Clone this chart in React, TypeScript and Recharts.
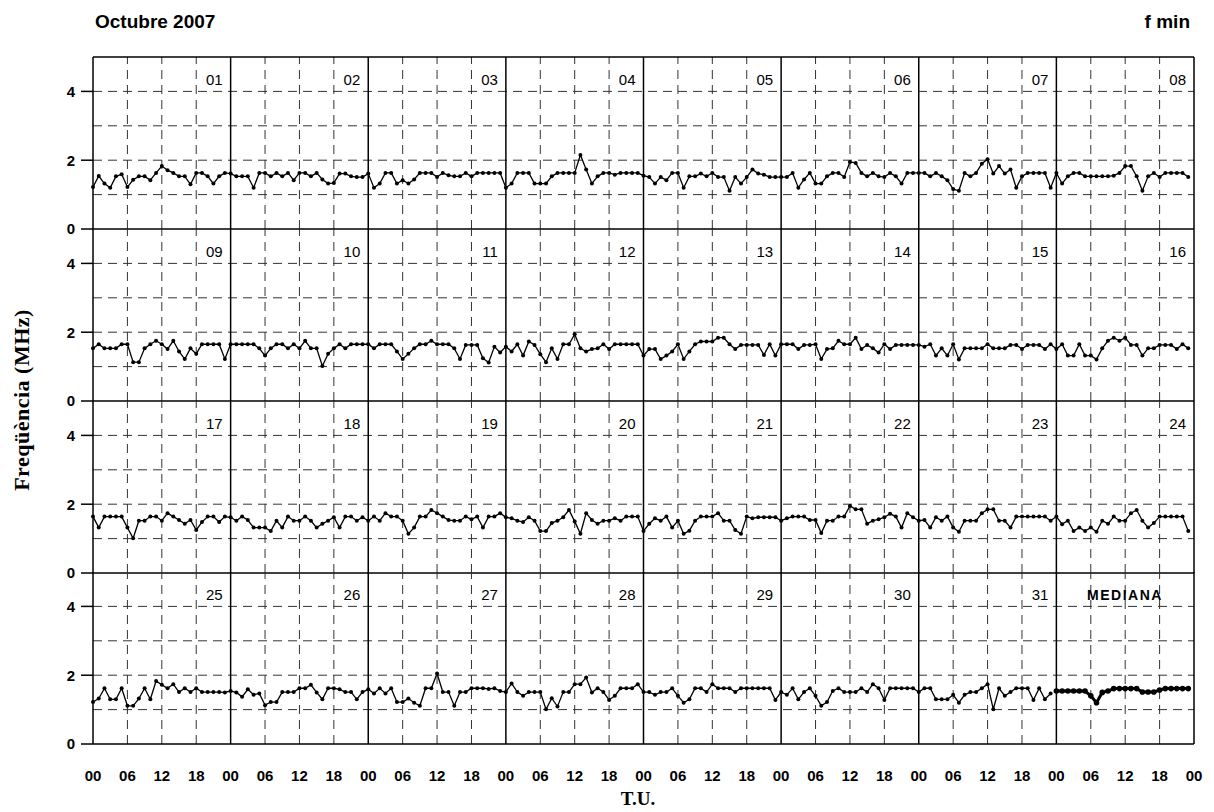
import React from "react";
import { Line, LineChart, ReferenceLine, XAxis, YAxis } from "recharts";

// hourly f min values (MHz), one array per day, hours 00..23
const days: number[][] = [
  /* 01 */ [1.22, 1.54, 1.32, 1.2, 1.53, 1.59, 1.22, 1.43, 1.53, 1.53, 1.42, 1.63, 1.83, 1.71, 1.63, 1.53, 1.53, 1.3, 1.63, 1.63, 1.53, 1.32, 1.53, 1.63],
  /* 02 */ [1.61, 1.53, 1.53, 1.53, 1.2, 1.63, 1.63, 1.53, 1.63, 1.53, 1.63, 1.42, 1.63, 1.63, 1.53, 1.63, 1.44, 1.32, 1.34, 1.61, 1.61, 1.53, 1.51, 1.51],
  /* 03 */ [1.61, 1.2, 1.32, 1.63, 1.63, 1.32, 1.42, 1.32, 1.44, 1.63, 1.63, 1.63, 1.51, 1.63, 1.56, 1.53, 1.53, 1.63, 1.53, 1.63, 1.63, 1.63, 1.63, 1.63],
  /* 04 */ [1.2, 1.32, 1.63, 1.63, 1.63, 1.32, 1.32, 1.32, 1.53, 1.63, 1.63, 1.63, 1.63, 2.15, 1.73, 1.32, 1.53, 1.63, 1.63, 1.58, 1.63, 1.63, 1.63, 1.63],
  /* 05 */ [1.55, 1.51, 1.32, 1.51, 1.42, 1.63, 1.63, 1.2, 1.53, 1.53, 1.61, 1.53, 1.63, 1.51, 1.51, 1.11, 1.51, 1.32, 1.51, 1.73, 1.61, 1.58, 1.51, 1.51],
  /* 06 */ [1.51, 1.51, 1.63, 1.2, 1.44, 1.63, 1.32, 1.32, 1.53, 1.63, 1.63, 1.51, 1.95, 1.92, 1.63, 1.53, 1.63, 1.53, 1.51, 1.63, 1.53, 1.32, 1.63, 1.63],
  /* 07 */ [1.63, 1.63, 1.53, 1.63, 1.53, 1.42, 1.16, 1.11, 1.63, 1.53, 1.63, 1.9, 2.03, 1.61, 1.83, 1.61, 1.73, 1.2, 1.53, 1.63, 1.63, 1.63, 1.63, 1.2],
  /* 08 */ [1.63, 1.32, 1.53, 1.63, 1.63, 1.53, 1.53, 1.53, 1.53, 1.53, 1.55, 1.63, 1.83, 1.83, 1.53, 1.11, 1.53, 1.63, 1.51, 1.63, 1.63, 1.63, 1.63, 1.51],
  /* 09 */ [1.53, 1.65, 1.53, 1.53, 1.53, 1.65, 1.65, 1.13, 1.13, 1.53, 1.65, 1.75, 1.65, 1.51, 1.75, 1.44, 1.22, 1.53, 1.37, 1.65, 1.65, 1.65, 1.65, 1.22],
  /* 10 */ [1.65, 1.65, 1.65, 1.65, 1.65, 1.53, 1.32, 1.53, 1.65, 1.65, 1.53, 1.65, 1.53, 1.75, 1.53, 1.53, 1.02, 1.37, 1.53, 1.65, 1.53, 1.65, 1.65, 1.65],
  /* 11 */ [1.65, 1.53, 1.65, 1.65, 1.65, 1.44, 1.22, 1.37, 1.53, 1.65, 1.65, 1.75, 1.65, 1.65, 1.65, 1.53, 1.22, 1.63, 1.63, 1.63, 1.24, 1.12, 1.58, 1.41],
  /* 12 */ [1.58, 1.44, 1.65, 1.32, 1.73, 1.63, 1.36, 1.13, 1.53, 1.22, 1.65, 1.65, 1.94, 1.53, 1.44, 1.51, 1.53, 1.65, 1.51, 1.65, 1.65, 1.65, 1.65, 1.65],
  /* 13 */ [1.32, 1.51, 1.51, 1.22, 1.32, 1.44, 1.65, 1.22, 1.44, 1.65, 1.73, 1.73, 1.73, 1.84, 1.84, 1.65, 1.51, 1.63, 1.63, 1.63, 1.63, 1.34, 1.65, 1.32],
  /* 14 */ [1.65, 1.65, 1.65, 1.51, 1.63, 1.63, 1.65, 1.22, 1.51, 1.53, 1.75, 1.65, 1.65, 1.84, 1.51, 1.63, 1.53, 1.41, 1.65, 1.51, 1.63, 1.63, 1.63, 1.63],
  /* 15 */ [1.63, 1.58, 1.65, 1.32, 1.53, 1.32, 1.65, 1.21, 1.53, 1.53, 1.53, 1.53, 1.65, 1.53, 1.53, 1.53, 1.63, 1.63, 1.51, 1.63, 1.63, 1.63, 1.51, 1.65],
  /* 16 */ [1.51, 1.65, 1.32, 1.32, 1.65, 1.32, 1.32, 1.21, 1.53, 1.75, 1.84, 1.75, 1.84, 1.63, 1.63, 1.32, 1.53, 1.53, 1.63, 1.63, 1.63, 1.51, 1.65, 1.53],
  /* 17 */ [1.64, 1.32, 1.64, 1.64, 1.64, 1.64, 1.32, 1.01, 1.52, 1.52, 1.64, 1.64, 1.52, 1.74, 1.64, 1.54, 1.43, 1.54, 1.25, 1.48, 1.64, 1.64, 1.48, 1.64],
  /* 18 */ [1.62, 1.52, 1.64, 1.54, 1.32, 1.32, 1.32, 1.22, 1.52, 1.32, 1.64, 1.52, 1.52, 1.64, 1.52, 1.32, 1.43, 1.52, 1.62, 1.32, 1.64, 1.64, 1.52, 1.62],
  /* 19 */ [1.52, 1.64, 1.52, 1.74, 1.64, 1.64, 1.52, 1.14, 1.32, 1.64, 1.64, 1.83, 1.74, 1.64, 1.54, 1.52, 1.52, 1.64, 1.56, 1.64, 1.32, 1.64, 1.64, 1.74],
  /* 20 */ [1.62, 1.59, 1.52, 1.48, 1.62, 1.52, 1.22, 1.22, 1.45, 1.52, 1.62, 1.83, 1.5, 1.14, 1.74, 1.54, 1.43, 1.52, 1.52, 1.59, 1.52, 1.64, 1.64, 1.64],
  /* 21 */ [1.22, 1.43, 1.59, 1.52, 1.64, 1.32, 1.52, 1.14, 1.23, 1.52, 1.64, 1.64, 1.64, 1.74, 1.52, 1.52, 1.25, 1.14, 1.64, 1.59, 1.62, 1.62, 1.62, 1.62],
  /* 22 */ [1.52, 1.59, 1.64, 1.64, 1.64, 1.54, 1.54, 1.16, 1.52, 1.52, 1.64, 1.64, 1.95, 1.85, 1.85, 1.43, 1.52, 1.56, 1.62, 1.72, 1.64, 1.32, 1.74, 1.62],
  /* 23 */ [1.52, 1.54, 1.32, 1.62, 1.52, 1.64, 1.32, 1.2, 1.52, 1.52, 1.52, 1.74, 1.85, 1.85, 1.52, 1.52, 1.32, 1.64, 1.64, 1.64, 1.64, 1.64, 1.64, 1.52],
  /* 24 */ [1.64, 1.42, 1.52, 1.22, 1.32, 1.22, 1.32, 1.2, 1.52, 1.43, 1.64, 1.52, 1.52, 1.74, 1.83, 1.52, 1.32, 1.45, 1.64, 1.64, 1.64, 1.64, 1.64, 1.22],
  /* 25 */ [1.22, 1.32, 1.62, 1.3, 1.3, 1.62, 1.11, 1.11, 1.32, 1.62, 1.3, 1.83, 1.72, 1.62, 1.74, 1.51, 1.62, 1.51, 1.62, 1.51, 1.51, 1.51, 1.51, 1.5],
  /* 26 */ [1.54, 1.5, 1.37, 1.59, 1.43, 1.47, 1.13, 1.22, 1.22, 1.51, 1.51, 1.51, 1.62, 1.62, 1.72, 1.5, 1.3, 1.62, 1.62, 1.59, 1.51, 1.51, 1.3, 1.51],
  /* 27 */ [1.59, 1.47, 1.62, 1.47, 1.62, 1.22, 1.22, 1.32, 1.2, 1.11, 1.62, 1.62, 2.05, 1.51, 1.51, 1.11, 1.51, 1.51, 1.62, 1.62, 1.62, 1.6, 1.62, 1.54],
  /* 28 */ [1.51, 1.76, 1.51, 1.4, 1.51, 1.51, 1.51, 1.01, 1.33, 1.09, 1.51, 1.51, 1.74, 1.74, 1.93, 1.5, 1.62, 1.51, 1.28, 1.4, 1.62, 1.62, 1.62, 1.74],
  /* 29 */ [1.51, 1.51, 1.43, 1.51, 1.51, 1.62, 1.4, 1.2, 1.3, 1.62, 1.62, 1.51, 1.74, 1.62, 1.62, 1.62, 1.51, 1.62, 1.62, 1.62, 1.62, 1.62, 1.62, 1.28],
  /* 30 */ [1.51, 1.43, 1.62, 1.3, 1.51, 1.62, 1.4, 1.11, 1.22, 1.54, 1.62, 1.51, 1.51, 1.51, 1.62, 1.51, 1.74, 1.62, 1.28, 1.62, 1.62, 1.62, 1.62, 1.62],
  /* 31 */ [1.51, 1.62, 1.62, 1.3, 1.3, 1.3, 1.43, 1.2, 1.43, 1.51, 1.51, 1.62, 1.74, 1.01, 1.62, 1.4, 1.51, 1.62, 1.62, 1.62, 1.28, 1.62, 1.3, 1.47],
];

const mediana = [1.54, 1.54, 1.54, 1.54, 1.54, 1.54, 1.4, 1.2, 1.5, 1.54, 1.61, 1.61, 1.61, 1.61, 1.61, 1.51, 1.51, 1.51, 1.57, 1.61, 1.61, 1.61, 1.61, 1.61];

const dayLabels = ["01", "02", "03", "04", "05", "06", "07", "08", "09", "10", "11", "12", "13", "14", "15", "16",
  "17", "18", "19", "20", "21", "22", "23", "24", "25", "26", "27", "28", "29", "30", "31", "MEDIANA"];

const hourTicks = [0, 6, 12, 18, 24, 30, 36, 42, 48, 54, 60, 66, 72, 78, 84, 90, 96, 102, 108, 114, 120, 126, 132, 138, 144, 150, 156, 162, 168, 174, 180, 186, 192];
const freqTicks = [0, 2, 4];
const freqGrid = [1, 2, 3, 4];

const ARIAL = "'Liberation Sans', Arial, sans-serif";
const TIMES = "'Liberation Serif', 'Times New Roman', serif";

const ROW_TOPS = [57, 229, 400.5, 572];
const ROW_H = 172;
const PAD = 12;

function rowData(r: number) {
  const out: { h: number; v?: number; m?: number }[] = [];
  for (let d = 0; d < 8; d++) {
    const idx = r * 8 + d;
    const vals = idx < days.length ? days[idx] : mediana;
    vals.forEach((val, i) => {
      if (idx < days.length) out.push({ h: d * 24 + i, v: val });
      else out.push({ h: d * 24 + i, m: val });
    });
  }
  return out;
}

function Row({ r }: { r: number }) {
  const last = r === 3;
  const xAxisH = last ? 40 : 0;
  const data = rowData(r);
  const dashedX = hourTicks.filter((h) => h % 24 !== 0);
  const solidX = hourTicks.filter((h) => h % 24 === 0 && h > 0);

  return (
    <div style={{ position: "absolute", left: 0, top: ROW_TOPS[r] - PAD }}>
      <LineChart width={1214} height={PAD + ROW_H + xAxisH + PAD} data={data}
        margin={{ top: PAD, right: 20, bottom: PAD, left: 0 }}>
        <XAxis type="number" dataKey="h" domain={[0, 192]} ticks={hourTicks} interval={0}
          hide={!last} height={xAxisH} axisLine={false} tickLine={false} tickMargin={20}
          tickFormatter={(h: number) => String(h % 24).padStart(2, "0")}
          tick={{ fontSize: 15, fontWeight: "bold", fill: "#000", fontFamily: ARIAL }} />
        <YAxis type="number" domain={[0, 5]} ticks={freqTicks} interval={0} width={93}
          tickSize={12} tickMargin={6}
          axisLine={{ stroke: "#000", strokeWidth: 1.5 }} tickLine={{ stroke: "#000", strokeWidth: 1.5 }}
          tick={{ fontSize: 15, fontWeight: "bold", fill: "#000", fontFamily: ARIAL }} />
        {freqGrid.map((y) => (
          <ReferenceLine key={"gy" + y} y={y} stroke="#333" strokeDasharray="9 6" />
        ))}
        {dashedX.map((x) => (
          <ReferenceLine key={"gx" + x} x={x} stroke="#333" strokeDasharray="9 6" />
        ))}
        <ReferenceLine y={0} stroke="#000" strokeWidth={1.5} />
        {r === 0 && <ReferenceLine y={5} stroke="#000" strokeWidth={1.5} />}
        {solidX.map((x, d) => {
          const text = dayLabels[r * 8 + d];
          const isMed = text === "MEDIANA";
          return (
            <ReferenceLine key={"sx" + x} x={x} stroke="#000" strokeWidth={1.5}
              label={(p: any) => (
                <text x={isMed ? p.viewBox.x - 69 : p.viewBox.x - 8} y={p.viewBox.y + 28}
                  textAnchor={isMed ? "middle" : "end"} fontSize={isMed ? 14 : 15}
                  letterSpacing={isMed ? 1.5 : 0}
                  fontWeight={isMed ? "bold" : "normal"} fontFamily={ARIAL} fill="#000">
                  {text}
                </text>
              )} />
          );
        })}
        <Line dataKey="v" type="linear" stroke="#000" strokeWidth={1.3} isAnimationActive={false}
          dot={{ r: 2, fill: "#000", stroke: "#000", strokeWidth: 0 }} activeDot={false} />
        {last && (
          <Line dataKey="m" type="linear" stroke="#000" strokeWidth={3} isAnimationActive={false}
            dot={{ r: 2.8, fill: "#000", stroke: "#000", strokeWidth: 0 }} activeDot={false} />
        )}
      </LineChart>
    </div>
  );
}

export default function App() {
  return (
    <div style={{ position: "absolute", left: 0, top: 0, width: 1214, height: 812, background: "#fff" }}>
      <div style={{ position: "absolute", left: 95, top: 11, fontFamily: ARIAL, fontWeight: "bold", fontSize: 19 }}>
        Octubre 2007
      </div>
      <div style={{ position: "absolute", right: 24, top: 11, fontFamily: ARIAL, fontWeight: "bold", fontSize: 19 }}>
        f min
      </div>
      {[0, 1, 2, 3].map((r) => (
        <Row key={r} r={r} />
      ))}
      <div style={{ position: "absolute", left: 22, top: 400, width: 0, height: 0 }}>
        <div style={{ position: "absolute", transform: "translate(-50%, -50%) rotate(-90deg)", whiteSpace: "nowrap",
          fontFamily: TIMES, fontWeight: "bold", fontSize: 22, letterSpacing: 0.5 }}>
          Freqüència (MHz)
        </div>
      </div>
      <div style={{ position: "absolute", left: 0, width: 1214, top: 788, textAlign: "center", paddingLeft: 62,
        boxSizing: "border-box", fontFamily: TIMES, fontWeight: "bold", fontSize: 19 }}>
        T.U.
      </div>
    </div>
  );
}
